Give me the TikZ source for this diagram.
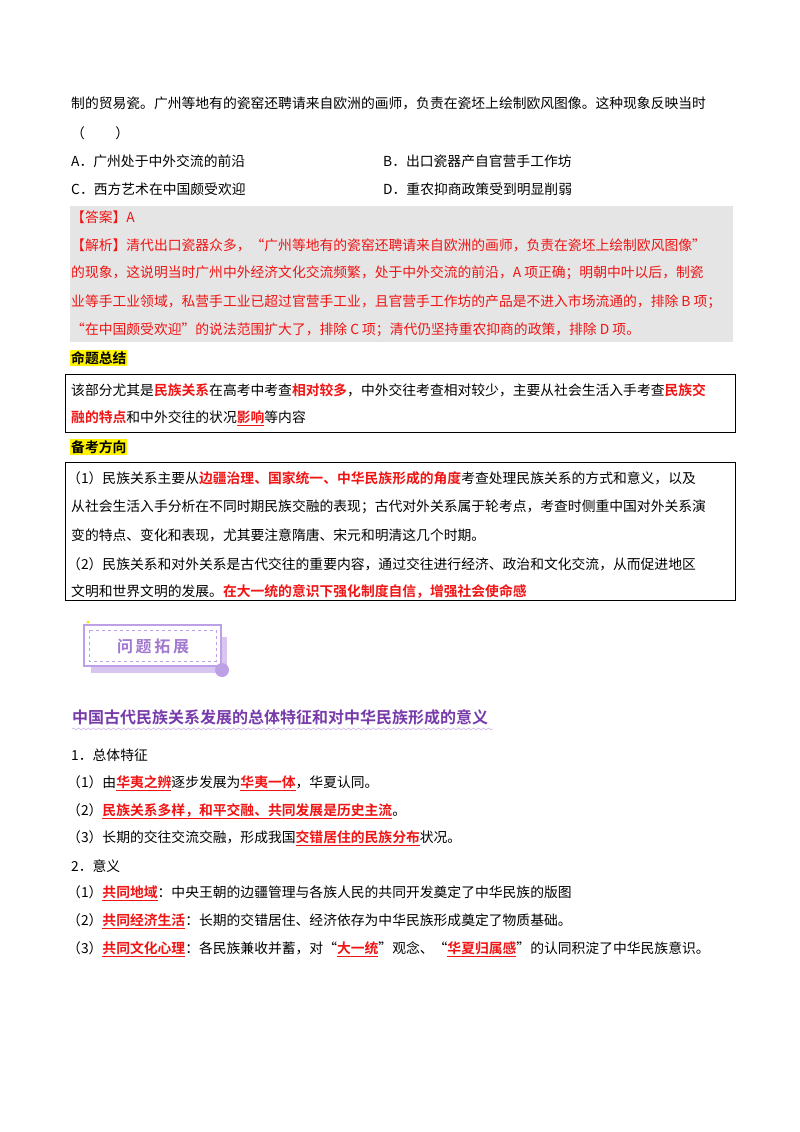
\documentclass[tikz,border=0pt]{standalone}
\usepackage{fontspec}
\setmainfont{Noto Sans CJK SC}[BoldFont={Noto Sans CJK SC Bold}]
\usetikzlibrary{decorations.pathmorphing}
\definecolor{rd}{RGB}{240,20,20}
\definecolor{pu}{RGB}{120,60,170}
\definecolor{lpu}{RGB}{190,160,230}
\newcommand\R[1]{\textcolor{rd}{\textbf{#1}}}
\newcommand\RU[1]{\textcolor{rd}{\textbf{\underline{#1}}}}
\tikzset{txt/.style={anchor=west,inner sep=0pt,font=\fontsize{13.8}{16}\selectfont},
 ans/.style={txt,text=rd},
 hl/.style={anchor=west,inner sep=1pt,fill=yellow,font=\fontsize{13.8}{16}\selectfont\bfseries}}
\begin{document}
\begin{tikzpicture}[x=1pt,y=-1pt]
\useasboundingbox[fill=white] (0,0) rectangle (800,1132);
\node[txt] (l1) at (71,103) {制的贸易瓷。广州等地有的瓷窑还聘请来自欧洲的画师，负责在瓷坯上绘制欧风图像。这种现象反映当时};
\node[txt] (l2) at (71,133) {（\hspace{2.2em}）};
\node[txt] (oa) at (71,161) {A．广州处于中外交流的前沿};
\node[txt] (ob) at (383,161) {B．出口瓷器产自官营手工作坊};
\node[txt] (oc) at (71,189) {C．西方艺术在中国颇受欢迎};
\node[txt] (od) at (383,189) {D．重农抑商政策受到明显削弱};
\fill[black!10] (70,206) rectangle (733,342);
\node[ans] (a1) at (71,217) {【答案】A};
\node[ans] (a2) at (71,245) {【解析】清代出口瓷器众多，“广州等地有的瓷窑还聘请来自欧洲的画师，负责在瓷坯上绘制欧风图像”};
\node[ans] (a3) at (71,273) {的现象，这说明当时广州中外经济文化交流频繁，处于中外交流的前沿，A 项正确；明朝中叶以后，制瓷};
\node[ans] (a4) at (71,302) {业等手工业领域，私营手工业已超过官营手工业，且官营手工作坊的产品是不进入市场流通的，排除 B 项；};
\node[ans] (a5) at (71,330) {“在中国颇受欢迎”的说法范围扩大了，排除 C 项；清代仍坚持重农抑商的政策，排除 D 项。};
\node[hl] (h1) at (70,358) {命题总结};
\draw[line width=1pt] (65,374) rectangle (735,432);
\node[txt] (b1) at (71,390) {该部分尤其是\R{民族关系}在高考中考查\R{相对较多}，中外交往考查相对较少，主要从社会生活入手考查\R{民族交}};
\node[txt] (b2) at (71,418) {\R{融的特点}和中外交往的状况\RU{影响}等内容};
\node[hl] (h2) at (70,447) {备考方向};
\draw[line width=1pt] (65,462) rectangle (735,600);
\node[txt] (c1) at (67,478) {（1）民族关系主要从\R{边疆治理、国家统一、中华民族形成的角度}考查处理民族关系的方式和意义，以及};
\node[txt] (c2) at (71,507) {从社会生活入手分析在不同时期民族交融的表现；古代对外关系属于轮考点，考查时侧重中国对外关系演};
\node[txt] (c3) at (71,535) {变的特点、变化和表现，尤其要注意隋唐、宋元和明清这几个时期。};
\node[txt] (c4) at (67,564) {（2）民族关系和对外关系是古代交往的重要内容，通过交往进行经济、政治和文化交流，从而促进地区};
\node[txt] (c5) at (71,591) {文明和世界文明的发展。\R{在大一统的意识下强化制度自信，增强社会使命感}};
% banner
\fill[lpu!60] (91,637) rectangle (227,673);
\draw[lpu,line width=1.5pt,fill=white] (84,625) rectangle (221,666);
\draw[lpu,dashed] (89,630) rectangle (216,661);
\fill[lpu] (222,670) circle (7);
\fill[yellow!80!orange] (88,622) circle (1.5);
\node[font=\fontsize{16}{18}\selectfont\bfseries,text=lpu!60!pu] (ban) at (153,646) {问\,题\,拓\,展};
\node[txt,font=\fontsize{16}{18}\selectfont\bfseries,text=pu] (tt) at (72,717) {中国古代民族关系发展的总体特征和对中华民族形成的意义};
\draw[lpu,decorate,decoration={snake,amplitude=1pt,segment length=5pt}] (tt.south west)++(0,4) -- ++(421,0);
\node[txt] (d0) at (71,755) {1．总体特征};
\node[txt] (d1) at (67,783) {（1）由\RU{华夷之辨}逐步发展为\RU{华夷一体}，华夏认同。};
\node[txt] (d2) at (67,811) {（2）\RU{民族关系多样，和平交融、共同发展是历史主流}。};
\node[txt] (d3) at (67,838) {（3）长期的交往交流交融，形成我国\RU{交错居住的民族分布}状况。};
\node[txt] (e0) at (71,866) {2．意义};
\node[txt] (e1) at (67,893) {（1）\RU{共同地域}：中央王朝的边疆管理与各族人民的共同开发奠定了中华民族的版图};
\node[txt] (e2) at (67,921) {（2）\RU{共同经济生活}：长期的交错居住、经济依存为中华民族形成奠定了物质基础。};
\node[txt] (e3) at (67,949) {（3）\RU{共同文化心理}：各民族兼收并蓄，对“\RU{大一统}”观念、“\RU{华夏归属感}”的认同积淀了中华民族意识。};
\end{tikzpicture}
\end{document}
